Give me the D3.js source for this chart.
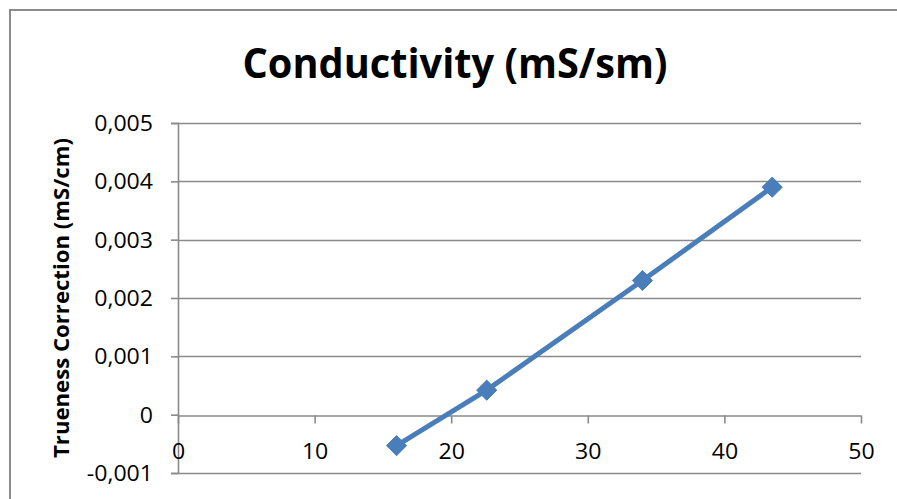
<!DOCTYPE html>
<html>
<head>
<meta charset="utf-8">
<script src="https://cdn.jsdelivr.net/npm/d3@7"></script>
<style>
  html, body { margin: 0; padding: 0; background: #fff; }
  svg { display: block; }
  text { font-family: "Open Sans", "Noto Sans", sans-serif; fill: #000; }
</style>
</head>
<body>
<svg id="chart" width="897" height="499"></svg>
<script>
// Conductivity trueness correction vs. temperature
const chartTitle = "Conductivity (mS/sm)";
const yAxisTitle = "Trueness Correction (mS/cm)";
const xValues = [16.0, 22.6, 34.0, 43.5];
const yValues = [-0.00053, 0.00042, 0.0023, 0.0039];
const xTicks = [0, 10, 20, 30, 40, 50];
const yTicks = [-0.001, 0, 0.001, 0.002, 0.003, 0.004, 0.005];

const W = 897, H = 499;
const plot = { left: 178, right: 861, top: 123, bottom: 473 };
const gridColor = "#8a8a8a";
const seriesColor = "#4a7ebb";

const svg = d3.select("#chart");

// outer chart frame (open on the right and bottom)
svg.append("path")
  .attr("d", `M10,${H + 2} V10 H${W + 2}`)
  .attr("fill", "none")
  .attr("stroke", "#8c8c8c")
  .attr("stroke-width", 2);

const x = d3.scaleLinear().domain([0, 50]).range([plot.left, plot.right]);
const y = d3.scaleLinear().domain([-0.001, 0.005]).range([plot.bottom, plot.top]);

const fmt = v => v === 0 ? "0" : d3.format(".3f")(v).replace("−", "-").replace(".", ",");

// horizontal gridlines
svg.append("g")
  .selectAll("line")
  .data(yTicks.filter(v => v !== 0))
  .join("line")
  .attr("x1", plot.left).attr("x2", plot.right)
  .attr("y1", d => Math.round(y(d)) + 0.5).attr("y2", d => Math.round(y(d)) + 0.5)
  .attr("stroke", gridColor)
  .attr("stroke-width", 1.6);

// y axis on the left
const yAxis = svg.append("g")
  .attr("transform", `translate(${plot.left},0)`)
  .call(d3.axisLeft(y).tickValues(yTicks).tickFormat(fmt).tickSize(7).tickPadding(10));
yAxis.select(".domain").attr("stroke", gridColor).attr("stroke-width", 1.6);
yAxis.selectAll(".tick line").attr("stroke", gridColor).attr("stroke-width", 1.6);
yAxis.selectAll(".tick text")
  .attr("x", null)
  .attr("dy", "0.36em")
  .attr("transform", "translate(-25,0) scale(1.1,1)")
  .style("font-size", "21px");

// x axis crossing at zero
const xAxis = svg.append("g")
  .attr("transform", `translate(0,${Math.round(y(0)) + 0.5})`)
  .call(d3.axisBottom(x).tickValues(xTicks).tickSize(8).tickSizeOuter(0).tickPadding(12));
xAxis.select(".domain").attr("stroke", gridColor).attr("stroke-width", 1.6);
xAxis.selectAll(".tick line").attr("stroke", gridColor).attr("stroke-width", 1.6);
xAxis.selectAll(".tick text")
  .attr("y", null).attr("dy", null)
  .attr("transform", "translate(0,43) scale(1.1,1)")
  .style("font-size", "21px");
svg.selectAll(".tick text").attr("fill", "#000");

// series line
svg.append("path")
  .datum(xValues.map((v, i) => [v, yValues[i]]))
  .attr("fill", "none")
  .attr("stroke", seriesColor)
  .attr("stroke-width", 5)
  .attr("stroke-linejoin", "round")
  .attr("d", d3.line().x(d => x(d[0])).y(d => y(d[1])));

// diamond markers
svg.append("g")
  .selectAll("path")
  .data(xValues.map((v, i) => [v, yValues[i]]))
  .join("path")
  .attr("transform", d => `translate(${x(d[0])},${y(d[1])})`)
  .attr("d", d3.symbol(d3.symbolDiamond2, 260)())
  .attr("fill", seriesColor)
  .attr("stroke", seriesColor)
  .attr("stroke-width", 1);

// chart title
svg.append("text")
  .attr("x", 455).attr("y", 78)
  .attr("text-anchor", "middle")
  .attr("textLength", 425)
  .attr("lengthAdjust", "spacingAndGlyphs")
  .style("font-size", "41px")
  .style("font-weight", "bold")
  .text(chartTitle);

// y axis title
svg.append("text")
  .attr("transform", "translate(69,298) rotate(-90)")
  .attr("text-anchor", "middle")
  .attr("textLength", 320)
  .attr("lengthAdjust", "spacingAndGlyphs")
  .style("font-size", "21px")
  .style("font-weight", "bold")
  .text(yAxisTitle);
</script>
</body>
</html>
